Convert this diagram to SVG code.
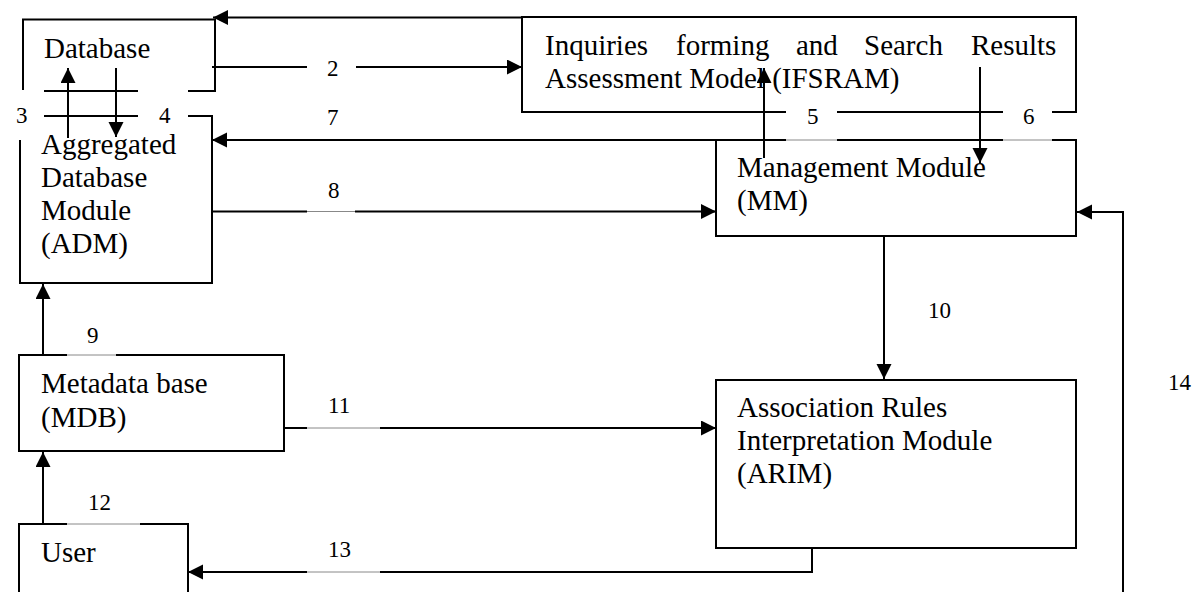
<svg xmlns="http://www.w3.org/2000/svg" width="1203" height="592" viewBox="0 0 1203 592">
<style>
.box{fill:none;stroke:#000;stroke-width:2}
.ln{fill:none;stroke:#000;stroke-width:2}
.thin{fill:none;stroke:#888;stroke-width:1}
.t{font-family:"Liberation Serif","Times New Roman",serif;font-size:29px;fill:#000}
.n{font-family:"Liberation Serif","Times New Roman",serif;font-size:23px;fill:#000}
</style>
<defs>
<marker id="ah" markerUnits="userSpaceOnUse" markerWidth="16" markerHeight="16" refX="15" refY="7.5" orient="auto">
<path d="M0,0 L15,7.5 L0,15 z" fill="#000"/>
</marker>
</defs>
<rect width="1203" height="592" fill="#fff"/>

<g id="db">
<path class="box" d="M23,90 V19.5 H215 V91 H188"/>
<line class="box" x1="44" y1="91" x2="138" y2="91"/>
<text class="t" x="44" y="58">Database</text>
</g>

<g id="adm">
<path class="box" d="M20,140 V283 H212 V116 H188"/>
<line class="box" x1="44" y1="116" x2="138" y2="116"/>
<text class="t" x="41" y="154">Aggregated</text>
<text class="t" x="41" y="187">Database</text>
<text class="t" x="41" y="220">Module</text>
<text class="t" x="41" y="253">(ADM)</text>
</g>

<g id="ifsram">
<path class="box" d="M786,112 H522 V17 H1076 V112 H1052"/>
<line class="box" x1="837" y1="112" x2="1003" y2="112"/>
<text class="t" x="545" y="55">Inquiries</text>
<text class="t" x="676" y="55">forming</text>
<text class="t" x="796" y="55">and</text>
<text class="t" x="864" y="55">Search</text>
<text class="t" x="971" y="55">Results</text>
<text class="t" x="545" y="88">Assessment Model (IFSRAM)</text>
</g>

<g id="mm">
<path class="box" d="M786,140 H716 V236 H1076 V140 H1052"/>
<line class="box" x1="837" y1="140" x2="1003" y2="140"/>
<line class="thin" x1="786" y1="140" x2="837" y2="140"/>
<line class="thin" x1="1003" y1="140" x2="1052" y2="140"/>
<text class="t" x="737" y="177">Management Module</text>
<text class="t" x="737" y="210">(MM)</text>
</g>

<g id="mdb">
<path class="box" d="M67,355 H19 V451 H284 V355 H116"/>
<line class="thin" x1="67" y1="355" x2="116" y2="355"/>
<text class="t" x="41" y="393">Metadata base</text>
<text class="t" x="41" y="427">(MDB)</text>
</g>

<g id="arim">
<rect class="box" x="716" y="380" width="360" height="168"/>
<text class="t" x="737" y="417">Association Rules</text>
<text class="t" x="737" y="450">Interpretation Module</text>
<text class="t" x="737" y="483">(ARIM)</text>
</g>

<g id="user">
<path class="box" d="M19,600 V524 H67 M140,524 H188 V600"/>
<line class="thin" x1="67" y1="524" x2="140" y2="524"/>
<text class="t" x="41" y="562">User</text>
</g>

<g id="connectors">
<line class="ln" x1="522" y1="17.5" x2="213" y2="17.5" marker-end="url(#ah)"/>
<line class="ln" x1="212" y1="67" x2="307" y2="67"/>
<line class="ln" x1="356" y1="67" x2="522" y2="67" marker-end="url(#ah)"/>
<line class="ln" x1="68" y1="138" x2="68" y2="68" marker-end="url(#ah)"/>
<line class="ln" x1="116" y1="68" x2="116" y2="137" marker-end="url(#ah)"/>
<line class="ln" x1="764" y1="158" x2="764" y2="68" marker-end="url(#ah)"/>
<line class="ln" x1="980" y1="67" x2="980" y2="163" marker-end="url(#ah)"/>
<line class="ln" x1="716" y1="140" x2="212" y2="140" marker-end="url(#ah)"/>
<line class="ln" x1="212" y1="211.5" x2="307" y2="211.5"/>
<line class="thin" x1="307" y1="211.5" x2="355" y2="211.5"/>
<line class="ln" x1="355" y1="211.5" x2="716" y2="211.5" marker-end="url(#ah)"/>
<line class="ln" x1="43" y1="355" x2="43" y2="284" marker-end="url(#ah)"/>
<line class="ln" x1="884" y1="236" x2="884" y2="379" marker-end="url(#ah)"/>
<line class="ln" x1="284" y1="428" x2="307" y2="428"/>
<line class="thin" x1="307" y1="428" x2="380" y2="428"/>
<line class="ln" x1="380" y1="428" x2="716" y2="428" marker-end="url(#ah)"/>
<line class="ln" x1="43" y1="524" x2="43" y2="452" marker-end="url(#ah)"/>
<path class="ln" d="M812,548 V572 H380"/>
<line class="thin" x1="380" y1="572" x2="307" y2="572"/>
<line class="ln" x1="307" y1="572" x2="188" y2="572" marker-end="url(#ah)"/>
<path class="ln" d="M1123,600 V212 H1077" marker-end="url(#ah)"/>
</g>

<g id="labels">
<text class="n" x="327" y="76">2</text>
<text class="n" x="16" y="123">3</text>
<text class="n" x="159" y="123">4</text>
<text class="n" x="807" y="124">5</text>
<text class="n" x="1023" y="124">6</text>
<text class="n" x="327" y="125">7</text>
<text class="n" x="328" y="198">8</text>
<text class="n" x="87" y="343">9</text>
<text class="n" x="928" y="318">10</text>
<text class="n" x="328" y="413">11</text>
<text class="n" x="88" y="510">12</text>
<text class="n" x="328" y="557">13</text>
<text class="n" x="1168" y="390">14</text>
</g>
</svg>
